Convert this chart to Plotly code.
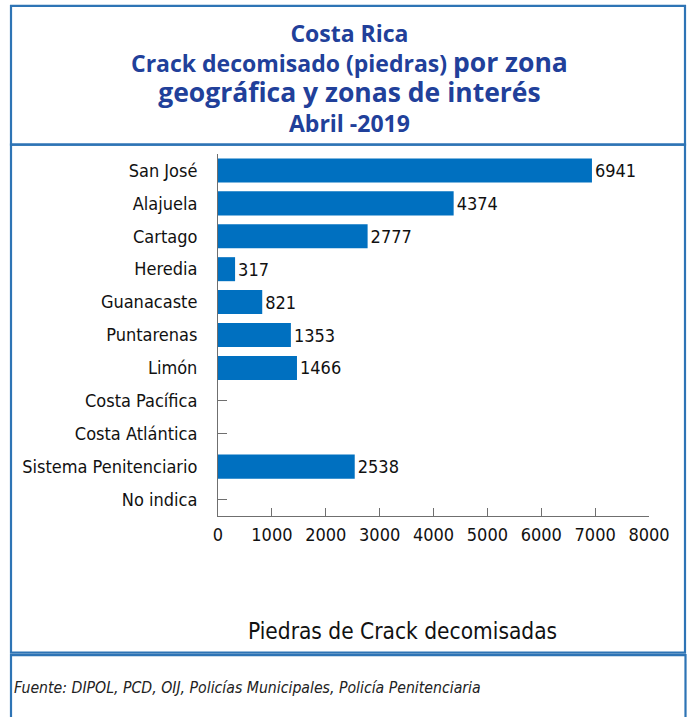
import plotly.graph_objects as go

categories = ["San José", "Alajuela", "Cartago", "Heredia", "Guanacaste", "Puntarenas",
              "Limón", "Costa Pacífica", "Costa Atlántica", "Sistema Penitenciario", "No indica"]
values = [6941, 4374, 2777, 317, 821, 1353, 1466, None, None, 2538, None]
x_ticks = [0, 1000, 2000, 3000, 4000, 5000, 6000, 7000, 8000]

W, H = 689, 717
PL, PR, PT, PB = 218, 649, 153.5, 516.5          # plot area in pixels
L, R, T, B = PL, W - PR, PT, H - PB
PW, PH = W - L - R, H - T - B

def px(x):
    return (x - L) / PW

def py(y):
    return (H - B - y) / PH

BLUE_BAR = "#0070C0"
BORDER = "#2E74B5"
TITLE = "#21409A"
COND = "DejaVu Sans Condensed, DejaVu Sans, sans-serif"
TFONT = "Open Sans, sans-serif"
INK = "#111111"
AXIS = "#6f6f6f"

fig = go.Figure(go.Bar(
    y=categories, x=values, orientation="h",
    marker=dict(color=BLUE_BAR, line=dict(width=0)),
    width=0.73,
    text=[("" if v is None else str(v)) for v in values],
    textposition="outside", cliponaxis=False,
    textfont=dict(family=COND, size=18, color=INK),
))

fig.update_layout(
    width=W, height=H, margin=dict(l=L, r=R, t=T, b=B),
    paper_bgcolor="white", plot_bgcolor="white", showlegend=False,
    xaxis=dict(range=[0, 8000], tickvals=x_ticks, ticks="inside", ticklen=8,
               tickcolor=AXIS, showline=True, linecolor=AXIS, linewidth=1,
               showgrid=False, zeroline=False, layer="below traces", automargin=False,
               ticklabelstandoff=2,
               tickfont=dict(family=COND, size=18, color=INK)),
    yaxis=dict(autorange="reversed", ticks="inside", ticklen=9, tickcolor=AXIS,
               showline=True, linecolor=AXIS, linewidth=1, showgrid=False,
               layer="below traces", ticklabelstandoff=16, automargin=False,
               tickfont=dict(family=COND, size=18, color=INK)),
)

shapes = []
for (x0, y0, x1, y1) in [(11, 5, 685, 144), (11, 144, 685, 653.5), (11, 656, 685.5, 730)]:
    shapes.append(dict(type="rect", xref="paper", yref="paper",
                       x0=px(x0), x1=px(x1), y0=py(y1), y1=py(y0),
                       line=dict(color=BORDER, width=2.2), fillcolor="rgba(0,0,0,0)",
                       layer="below"))
fig.update_layout(shapes=shapes)

ann = []
def add(text, x, y, size, family, color, xanchor="center"):
    ann.append(dict(text=text, x=px(x), y=py(y), xref="paper", yref="paper",
                    showarrow=False, xanchor=xanchor, yanchor="middle",
                    font=dict(size=size, family=family, color=color)))

title_text = ("<b>Costa Rica</b><br>"
              "<b>Crack decomisado (piedras) <span style='font-size:26.5px'>por zona</span></b><br>"
              "<b><span style='font-size:26.5px'>geográfica y zonas de interés</span></b><br>"
              "<b>Abril -2019</b>")
add(title_text, 349, 77, 23, TFONT, TITLE)
add("Piedras de Crack decomisadas", 402, 632, 22.5, COND, INK)
add("<i>Fuente: DIPOL, PCD, OIJ, Policías Municipales, Policía Penitenciaria</i>", 12, 688, 15.7, COND, "#222222", xanchor="left")
fig.update_layout(annotations=ann)

fig.write_html("out.html", config={"displayModeBar": False},
               post_script="document.body.style.margin='0';document.body.style.overflow='hidden';")
